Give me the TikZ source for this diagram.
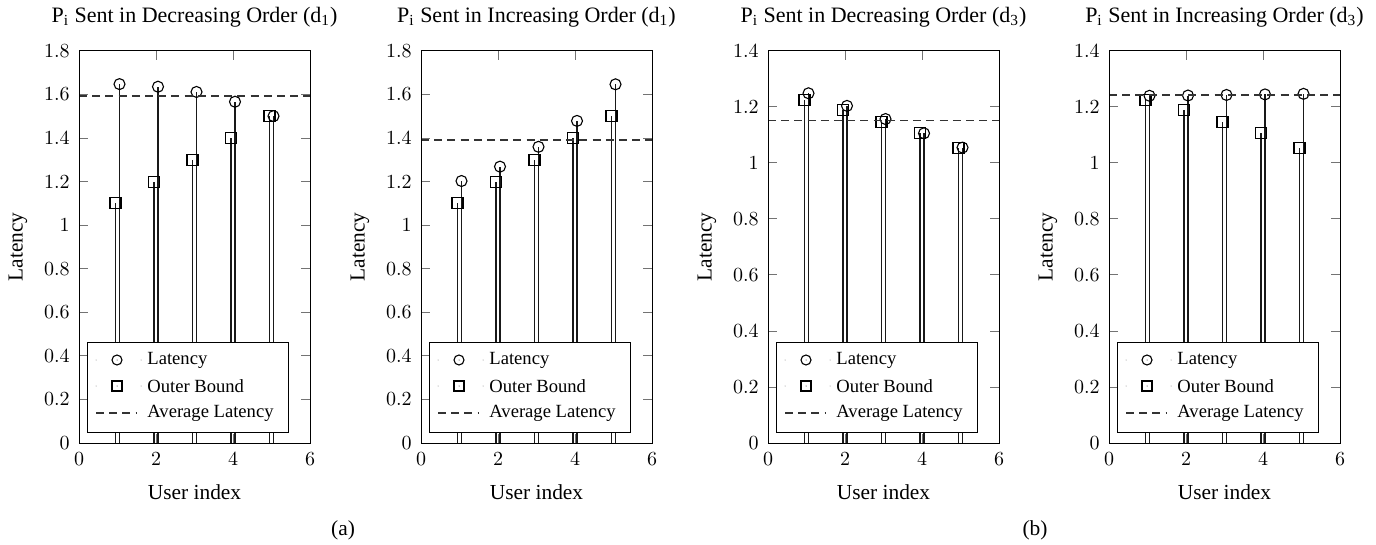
\documentclass[tikz,border=0pt]{standalone}
\usepackage[no-math]{fontspec}
\setmainfont{Liberation Serif}
\tikzset{
  frame/.style={draw=black, line width=0.5pt},
  tickmark/.style={draw=black!55, line width=0.5pt},
  stem/.style={draw=black!90, line width=0.55pt},
  markline/.style={draw=black, line width=0.55pt},
  avgline/.style={draw=black!80, line width=0.6pt, dash pattern=on 4pt off 2.6pt},
  ticklab/.style={font=\fontsize{10.3}{12}\selectfont, inner sep=0pt},
  axlab/.style={font=\fontsize{10.7}{12}\selectfont, inner sep=0pt},
  titlelab/.style={font=\fontsize{11}{13}\selectfont, inner sep=0pt},
  legbox/.style={draw=black, fill=white, line width=0.5pt},
  legtext/.style={font=\fontsize{9.3}{11}\selectfont, anchor=west, inner sep=0pt},
}
% #1 left x (px), #2 ymax, #3 ytick list v/label, #4 title, #5 data u/lat/ob, #6 avg, #7 id
\newcommand{\mypanel}[7]{%
\begin{scope}[shift={(#1,0)}]
  % stems and marks
  \foreach \u/\lat/\ob in {#5}{
    \pgfmathsetmacro{\xs}{\u*38.5-2}
    \pgfmathsetmacro{\xc}{\u*38.5+2}
    \pgfmathsetmacro{\yl}{443-\lat*392/#2}
    \pgfmathsetmacro{\yo}{443-\ob*392/#2}
    \draw[stem] (\xs,443) -- (\xs,\yo);
    \draw[stem] (\xc,443) -- (\xc,\yl);
    \draw[markline] (\xs-5.5,\yo-5.5) rectangle (\xs+5.5,\yo+5.5);
    \draw[markline] (\xc,\yl) circle[radius=5.5];
  }
  % average line
  \pgfmathsetmacro{\ya}{443-#6*392/#2}
  \coordinate (#7avgL) at (0,\ya);
  \coordinate (#7avgR) at (231,\ya);
  \draw[avgline] (#7avgL) -- (#7avgR);
  % ticks
  \foreach \v/\lab in {#3}{
    \pgfmathsetmacro{\yt}{443-\v*392/#2}
    \draw[tickmark] (0,\yt) -- (9,\yt);
    \draw[tickmark] (231,\yt) -- (222,\yt);
    \node[ticklab, anchor=east] (#7y\lab) at (-9,\yt) {$\lab$};
  }
  \foreach \u in {0,2,4,6}{
    \draw[tickmark] (\u*38.5,443) -- (\u*38.5,434);
    \draw[tickmark] (\u*38.5,51) -- (\u*38.5,60);
    \node[ticklab, anchor=north] (#7x\u) at (\u*38.5,452) {$\u$};
  }
  % legend
  \draw[legbox] (8,342) rectangle (209,432);
  \fill[black!50] (17,360) circle[radius=0.5] (62,360) circle[radius=0.5]
                  (17,386) circle[radius=0.5] (62,386) circle[radius=0.5];
  \draw[markline] (38,360) circle[radius=5];
  \fill (38,360) circle[radius=0.5];
  \draw[markline] (33,381) rectangle (43,391);
  \fill (38,386) circle[radius=0.5];
  \draw[avgline] (17,413) -- (58,413);
  \node[legtext] (#7l1) at (68,360) {Latency};
  \node[legtext] (#7l2) at (68,386) {Outer Bound};
  \node[legtext] (#7l3) at (68,413) {Average Latency};
  % frame
  \draw[frame] (0,51) rectangle (231,443);
  % labels
  \node[titlelab] (#7title) at (115.5,17) {#4};
  \node[axlab, rotate=90] (#7ylab) at (-61,247) {Latency};
  \node[axlab] (#7xlab) at (115.5,492) {User index};
\end{scope}
}
\begin{document}
\begin{tikzpicture}[x=0.5pt,y=-0.5pt]
\useasboundingbox[fill=white] (0,0) rectangle (1376,545);
\mypanel{79}{1.8}{0/0,0.2/0.2,0.4/0.4,0.6/0.6,0.8/0.8,1/1,1.2/1.2,1.4/1.4,1.6/1.6,1.8/1.8}
  {P\textsubscript{i} Sent in Decreasing Order (d\textsubscript{1})}
  {1/1.648/1.1,2/1.636/1.2,3/1.612/1.3,4/1.567/1.4,5/1.501/1.5}{1.593}{pa}
\mypanel{421}{1.8}{0/0,0.2/0.2,0.4/0.4,0.6/0.6,0.8/0.8,1/1,1.2/1.2,1.4/1.4,1.6/1.6,1.8/1.8}
  {P\textsubscript{i} Sent in Increasing Order (d\textsubscript{1})}
  {1/1.203/1.1,2/1.269/1.2,3/1.36/1.3,4/1.479/1.4,5/1.647/1.5}{1.391}{pb}
\mypanel{768}{1.4}{0/0,0.2/0.2,0.4/0.4,0.6/0.6,0.8/0.8,1/1,1.2/1.2,1.4/1.4}
  {P\textsubscript{i} Sent in Decreasing Order (d\textsubscript{3})}
  {1/1.249/1.226,2/1.204/1.188,3/1.157/1.148,4/1.106/1.106,5/1.055/1.055}{1.153}{pc}
\mypanel{1109}{1.4}{0/0,0.2/0.2,0.4/0.4,0.6/0.6,0.8/0.8,1/1,1.2/1.2,1.4/1.4}
  {P\textsubscript{i} Sent in Increasing Order (d\textsubscript{3})}
  {1/1.240/1.226,2/1.241/1.188,3/1.243/1.148,4/1.245/1.106,5/1.247/1.055}{1.243}{pd}
\node[axlab] (suba) at (343,530) {(a)};
\node[axlab] (subb) at (1035,530) {(b)};
\end{tikzpicture}
\end{document}
